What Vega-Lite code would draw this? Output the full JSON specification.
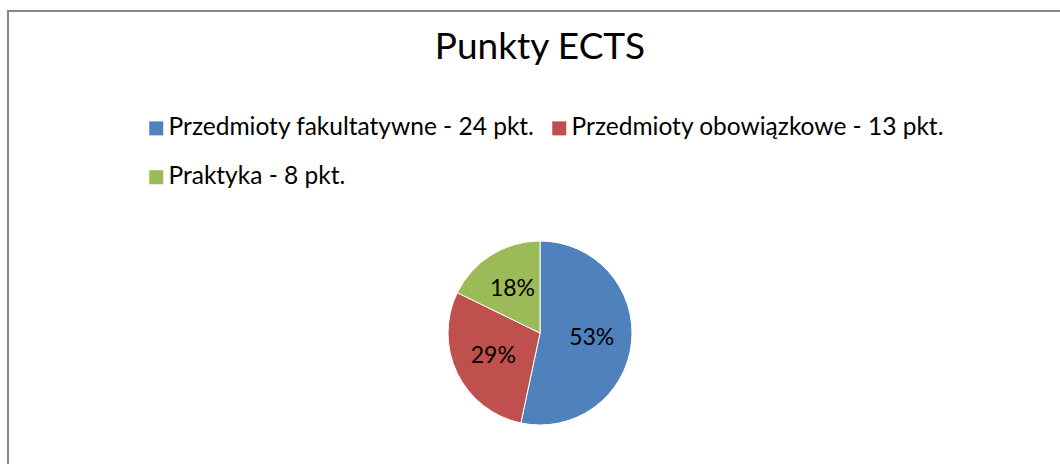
{
  "$schema": "https://vega.github.io/schema/vega-lite/v6.json",
  "width": 1060,
  "height": 464,
  "autosize": {"type": "fit", "contains": "padding"},
  "padding": {"left": 8, "top": 11, "right": -12, "bottom": -191},
  "view": {"stroke": "#888888", "strokeWidth": 2},
  "config": {
    "font": "Lato"
  },
  "title": {
    "text": "Punkty ECTS",
    "font": "Lato",
    "fontSize": 37,
    "fontWeight": "normal",
    "color": "#000000",
    "anchor": "middle",
    "frame": "group",
    "baseline": "alphabetic",
    "offset": -85
  },
  "data": {
    "values": [
      {"idx": 1, "category": "Przedmioty fakultatywne - 24 pkt.", "value": 24, "label": "53%"},
      {"idx": 2, "category": "Przedmioty obowiązkowe - 13 pkt.", "value": 13, "label": "29%"},
      {"idx": 3, "category": "Praktyka - 8 pkt.", "value": 8, "label": "18%"}
    ]
  },
  "encoding": {
    "theta": {"field": "value", "type": "quantitative", "stack": true},
    "order": {"field": "idx", "type": "quantitative"}
  },
  "layer": [
    {
      "mark": {"type": "arc", "radius": 92, "stroke": "white", "strokeWidth": 1},
      "encoding": {
        "color": {
          "field": "category",
          "type": "nominal",
          "scale": {
            "domain": ["Przedmioty fakultatywne - 24 pkt.", "Przedmioty obowiązkowe - 13 pkt.", "Praktyka - 8 pkt."],
            "range": ["#4F81BD", "#C0504D", "#9BBB59"]
          },
          "legend": {
            "title": null,
            "orient": "none",
            "legendX": 136,
            "legendY": 105,
            "direction": "horizontal",
            "columns": 2,
            "symbolType": "square",
            "symbolSize": 196,
            "symbolStrokeWidth": 0,
            "labelFont": "Lato",
            "labelFontSize": 24.5,
            "labelColor": "#000000",
            "labelOffset": 0,
            "labelLimit": 600,
            "columnPadding": 12,
            "rowPadding": 24,
            "padding": 0
          }
        }
      }
    },
    {
      "mark": {"type": "text", "radius": 52, "font": "Lato", "fontSize": 23, "color": "#000000"},
      "encoding": {
        "text": {"field": "label", "type": "nominal"}
      }
    }
  ]
}
